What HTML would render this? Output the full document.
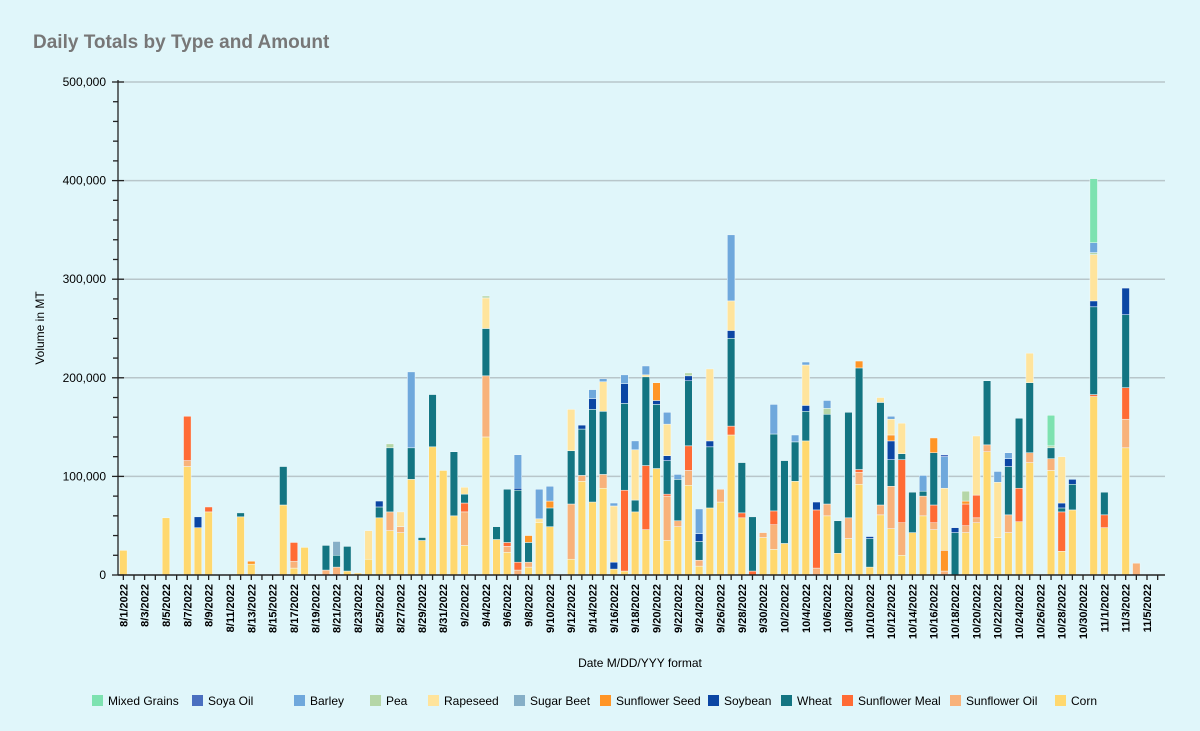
<!DOCTYPE html>
<html><head><meta charset="utf-8">
<style>
html,body{margin:0;padding:0;background:#e0f6fa;}
body{width:1200px;height:726px;overflow:hidden;font-family:"Liberation Sans",sans-serif;}
svg text{font-family:"Liberation Sans",sans-serif;}
</style></head>
<body>
<svg id="chart" width="1200" height="726" viewBox="0 0 1200 726">
<rect x="0" y="0" width="1200" height="726" fill="#e0f6fa"/>
<text x="33" y="48" font-size="19" font-weight="bold" fill="#777">Daily Totals by Type and Amount</text>
<text transform="translate(44,328) rotate(-90)" text-anchor="middle" font-size="12" fill="#000">Volume in MT</text>
<text x="640" y="667" text-anchor="middle" font-size="12" fill="#000">Date M/DD/YYY format</text>
<g id="grid"></g><g id="bars"></g><g id="axes"></g><g id="legend"></g>
</svg>
<script>
const seriesNames=["Corn","Sunflower Oil","Sunflower Meal","Wheat","Soybean","Sunflower Seed","Sugar Beet","Rapeseed","Pea","Barley","Soya Oil","Mixed Grains"];
const seriesColors=["#ffd86e","#f8b27a","#ff6b35","#137582","#0b46a4","#ff9526","#86afc7","#ffe49c","#b5d6a7","#6fa8dc","#4a6fc0","#7de2b0"];
const yTicks=[0,100000,200000,300000,400000,500000];
const yTickLabels=["0","100,000","200,000","300,000","400,000","500,000"];
// values in thousands of MT, one per day 8/1/2022 .. 11/6/2022
const corn=[25,0,0,0,58,0,110,48,64,0, 0,59,11,0,0,71,7,28,0,0, 0,4,2,16,58,45,43,97,35,130, 106,60,30,0,140,36,23,0,8,53, 49,0,16,95,74,88,6,4,64,46, 108,35,49,91,9,68,74,142,58,0, 38,26,32,95,136,0,60,22,37,92, 8,61,47,20,43,60,46,0,0,43, 53,125,38,43,54,114,0,106,24,66, 0,181,48,0,129,0,0,0];
const sunflowerOil=[0,0,0,0,0,0,6,0,0,0, 0,0,0,0,0,0,7,0,0,5, 8,0,0,0,0,19,6,0,0,0, 0,0,34,0,62,0,6,5,5,0, 0,0,56,6,0,14,0,0,0,0, 0,45,6,15,6,0,13,0,0,0, 5,25,0,0,0,7,12,0,21,12, 0,10,43,33,0,20,7,4,0,7, 5,7,0,18,0,10,0,12,0,0, 0,0,0,0,29,12,0,0];
const sunflowerMeal=[0,0,0,0,0,0,45,0,5,0, 0,0,0,0,0,0,19,0,0,0, 0,0,0,0,0,0,0,0,0,0, 0,0,9,0,0,0,4,8,0,0, 0,0,0,0,0,0,0,82,0,65, 0,2,0,25,0,0,0,9,5,4, 0,14,0,0,0,59,0,0,0,3, 0,0,0,64,0,0,18,0,0,22, 23,0,0,0,34,0,0,0,40,0, 0,2,13,0,32,0,0,0];
const wheat=[0,0,0,0,0,0,0,0,0,0, 0,4,0,0,0,39,0,0,0,25, 12,25,0,0,11,65,0,32,3,53, 0,65,9,0,48,13,54,73,20,0, 19,0,54,47,94,64,0,88,12,90, 65,34,42,66,19,62,0,89,51,55, 0,78,84,40,30,0,91,33,107,103, 29,104,27,6,41,5,53,0,43,0, 0,65,0,49,71,71,0,11,4,26, 0,89,23,0,74,0,0,0];
const soybean=[0,0,0,0,0,0,0,11,0,0, 0,0,0,0,0,0,0,0,0,0, 0,0,0,0,6,0,0,0,0,0, 0,0,0,0,0,0,0,2,0,0, 0,0,0,4,11,0,7,20,0,0, 4,5,0,5,8,6,0,8,0,0, 0,0,0,0,6,8,0,0,0,0, 2,0,19,0,0,0,0,0,5,0, 0,0,0,8,0,0,0,0,5,5, 0,6,0,0,27,0,0,0];
const sunflowerSeed=[0,0,0,0,0,0,0,0,0,0, 0,0,3,0,0,0,0,0,0,0, 0,0,0,0,0,0,0,0,0,0, 0,0,0,0,0,0,0,0,7,0, 7,0,0,0,0,0,0,0,0,0, 18,0,0,0,0,0,0,0,0,0, 0,0,0,0,0,0,0,0,0,7, 0,0,6,0,0,0,15,21,0,3, 0,0,0,0,0,0,0,0,0,0, 0,0,0,0,0,0,0,0];
const sugarBeet=[0,0,0,0,0,0,0,0,0,0, 0,0,0,0,0,0,0,0,0,0, 14,0,0,0,0,0,0,0,0,0, 0,0,0,0,0,0,0,0,0,0, 0,0,0,0,0,0,0,0,0,0, 0,0,0,0,0,0,0,0,0,0, 0,0,0,0,0,0,0,0,0,0, 0,0,0,0,0,0,0,0,0,0, 0,0,0,0,0,0,0,0,0,0, 0,0,0,0,0,0,0,0];
const rapeseed=[0,0,0,0,0,0,0,0,0,0, 0,0,0,0,0,0,0,0,0,0, 0,0,0,29,0,0,15,0,0,0, 0,0,7,0,31,0,0,0,0,4, 0,0,42,0,0,30,57,0,51,2, 0,32,0,0,0,73,0,30,0,0, 0,0,0,0,41,0,0,0,0,0, 0,5,16,31,0,0,0,63,0,0, 60,0,56,0,0,30,0,0,47,0, 0,47,0,0,0,0,0,0];
const pea=[0,0,0,0,0,0,0,0,0,0, 0,0,0,0,0,0,0,0,0,0, 0,0,0,0,0,4,0,0,0,0, 0,0,0,0,2,0,0,0,0,0, 0,0,0,0,0,0,0,0,0,0, 0,0,0,3,0,0,0,0,0,0, 0,0,0,0,0,0,6,0,0,0, 0,0,0,0,0,0,0,0,0,10, 0,0,0,0,0,0,0,2,0,0, 0,2,0,0,0,0,0,0];
const barley=[0,0,0,0,0,0,0,0,0,0, 0,0,0,0,0,0,0,0,0,0, 0,0,0,0,0,0,0,77,0,0, 0,0,0,0,0,0,0,34,0,30, 15,0,0,0,9,3,3,9,9,9, 0,12,5,0,25,0,0,67,0,0, 0,30,0,7,3,0,8,0,0,0, 0,0,3,0,0,16,0,32,0,0, 0,0,11,6,0,0,0,0,0,0, 0,10,0,0,0,0,0,0];
const soyaOil=[0,0,0,0,0,0,0,0,0,0, 0,0,0,0,0,0,0,0,0,0, 0,0,0,0,0,0,0,0,0,0, 0,0,0,0,0,0,0,0,0,0, 0,0,0,0,0,0,0,0,0,0, 0,0,0,0,0,0,0,0,0,0, 0,0,0,0,0,0,0,0,0,0, 0,0,0,0,0,0,0,2,0,0, 0,0,0,0,0,0,0,0,0,0, 0,0,0,0,0,0,0,0];
const mixedGrains=[0,0,0,0,0,0,0,0,0,0, 0,0,0,0,0,0,0,0,0,0, 0,0,0,0,0,0,0,0,0,0, 0,0,0,0,0,0,0,0,0,0, 0,0,0,0,0,0,0,0,0,0, 0,0,0,0,0,0,0,0,0,0, 0,0,0,0,0,0,0,0,0,0, 0,0,0,0,0,0,0,0,0,0, 0,0,0,0,0,0,0,31,0,0, 0,65,0,0,0,0,0,0];
const seriesData=[corn,sunflowerOil,sunflowerMeal,wheat,soybean,sunflowerSeed,sugarBeet,rapeseed,pea,barley,soyaOil,mixedGrains];

// categories: dates 8/1/2022 .. 11/6/2022
const categories=[];
(function(){const d=new Date(2022,7,1);for(let i=0;i<98;i++){categories.push((d.getMonth()+1)+"/"+d.getDate()+"/"+d.getFullYear());d.setDate(d.getDate()+1);}})();

const NS="http://www.w3.org/2000/svg";
const X0=118,X1=1163,Y0=575,Y1=82,YMAX=500000;
const band=(X1-X0)/categories.length;
function xScale(i){return X0+(i+0.5)*band;}
function yScale(v){return Y0-(v/YMAX)*(Y0-Y1);}
function mk(tag,attrs,parent){const e=document.createElementNS(NS,tag);for(const k in attrs)e.setAttribute(k,attrs[k]);parent.appendChild(e);return e;}

const grid=document.getElementById('grid'),bars=document.getElementById('bars'),axes=document.getElementById('axes'),legend=document.getElementById('legend');
yTicks.forEach((t,i)=>{
  const y=yScale(t);
  if(t>0){const gl=mk('line',{x1:X0,x2:X1+2,y1:y,y2:y,stroke:'#b8c6ca','stroke-width':1.5},grid);
  
  }
  const tl=mk('text',{x:106,y:y+4,'text-anchor':'end','font-size':12,fill:'#000'},axes);
  tl.textContent=yTickLabels[i];
  
  
});
for(let v=0;v<=YMAX;v+=20000){
  const y=yScale(v);const major=v%100000===0;
  const tk=mk('line',{x1:major?112:113,x2:major?124:118,y1:y,y2:y,stroke:'#222','stroke-width':1.3},axes);
  
  
}
const ya=mk('line',{x1:X0,x2:X0,y1:Y1-2,y2:Y0,stroke:'#222','stroke-width':1.3},axes);



// bars
categories.forEach((c,i)=>{
  let cum=0;
  seriesData.forEach((arr,s)=>{
    const v=arr[i]*1000; if(!v) return;
    const yTop=yScale(cum+v),yBot=yScale(cum);cum+=v;
    const r=mk('rect',{x:xScale(i)-3.8,y:yTop,width:7.6,height:Math.max(yBot-yTop,0.5),fill:seriesColors[s],stroke:'#f2fbfd','stroke-width':0.5},bars);
    
    
  });
});

const xa=mk('line',{x1:X0,x2:X1+2,y1:Y0,y2:Y0,stroke:'#222','stroke-width':1.5},axes);


categories.forEach((c,i)=>{
  const x=xScale(i);
  const tk=mk('line',{x1:x,x2:x,y1:Y0,y2:Y0+5,stroke:'#222','stroke-width':1.3},axes);
  
  
  if(i%2===0&&i<=96){
    const t=mk('text',{x:x+4,y:584,'text-anchor':'end','font-size':11,'font-weight':'bold',fill:'#000',transform:'rotate(-90,'+(x+4)+',584)'},axes);
    t.textContent=c;
    
    
  }
});

// legend (display order)
const legendOrder=[11,10,9,8,7,6,5,4,3,2,1,0];
const legendX=[92,192,294,370,428,514,600,708,781,842,950,1055];
legendOrder.forEach((s,k)=>{
  const g=mk('g',{},legend);
  
  
  mk('rect',{x:legendX[k],y:695,width:11,height:11,fill:seriesColors[s]},g);
  const t=mk('text',{x:legendX[k]+16,y:705,'font-size':12,fill:'#000'},g);
  t.textContent=seriesNames[s];
});
</script>
</body></html>
